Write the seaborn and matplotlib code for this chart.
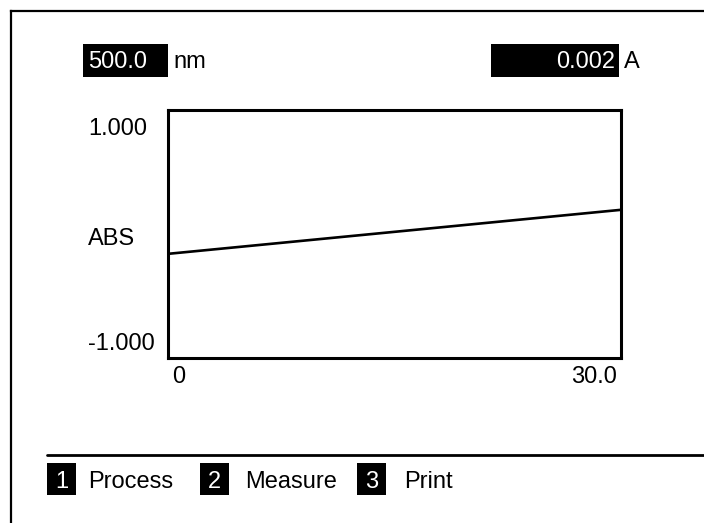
import matplotlib
matplotlib.use("Agg")
import matplotlib.pyplot as plt
from matplotlib.patches import Rectangle
from matplotlib.lines import Line2D
import seaborn as sns
import pandas as pd

# ---- data ----
time_min = [0.0, 30.0]
absorbance = [-0.16, 0.195]
x_limits = [0.0, 30.0]
y_limits = [-1.0, 1.0]
x_tick_labels = ["0", "30.0"]
y_tick_labels = ["1.000", "-1.000"]
y_axis_label = "ABS"
wavelength_text = "500.0"
wavelength_unit = "nm"
reading_text = "0.002"
reading_unit = "A"
menu_keys = ["1", "2", "3"]
menu_items = ["Process", "Measure", "Print"]

W, H = 704, 523
sns.set_theme(style="white")
plt.rcParams["font.family"] = ["Liberation Sans", "DejaVu Sans"]
FS = 17

fig = plt.figure(figsize=(W / 100, H / 100), dpi=100)
fig.patch.set_facecolor("white")

# overlay in pixel coords
ov = fig.add_axes([0, 0, 1, 1], zorder=0)
ov.set_xlim(0, W)
ov.set_ylim(H, 0)
ov.axis("off")
ov.patch.set_alpha(0)

# main plot area
L, R, T, B = 168, 621, 110, 358
ax = fig.add_axes([L / W, 1 - B / H, (R - L) / W, (B - T) / H], zorder=1)
df = pd.DataFrame({"t": time_min, "abs": absorbance})
sns.lineplot(data=df, x="t", y="abs", ax=ax, color="black", linewidth=1.9)
ax.set_xlim(*x_limits)
ax.set_ylim(*y_limits)
ax.set_xticks([])
ax.set_yticks([])
ax.set_xlabel("")
ax.set_ylabel("")
for s in ax.spines.values():
    s.set_visible(True)
    s.set_color("black")
    s.set_linewidth(2.2)

# outer frame
ov.add_line(Line2D([11, 11], [H + 5, 11], color="black", lw=1.6, solid_capstyle="projecting"))
ov.add_line(Line2D([11, W + 5], [11, 11], color="black", lw=1.6, solid_capstyle="projecting"))

# top readouts
ov.add_patch(Rectangle((83, 44), 168 - 83, 33, color="black", lw=0))
ov.text(88, 68.5, wavelength_text, color="white", fontsize=FS, ha="left", va="baseline")
ov.text(173, 68.5, wavelength_unit, color="black", fontsize=FS, ha="left", va="baseline")
ov.add_patch(Rectangle((491, 44), 619 - 491, 33, color="black", lw=0))
ov.text(615, 68.5, reading_text, color="white", fontsize=FS, ha="right", va="baseline")
ov.text(624, 68.5, reading_unit, color="black", fontsize=FS, ha="left", va="baseline")

# axis labels
ov.text(88, 135, y_tick_labels[0], fontsize=FS, ha="left", va="baseline", color="black")
ov.text(88, 245, y_axis_label, fontsize=FS, ha="left", va="baseline", color="black")
ov.text(88, 350, y_tick_labels[1], fontsize=FS, ha="left", va="baseline", color="black")
ov.text(172, 383, x_tick_labels[0], fontsize=FS, ha="left", va="baseline", color="black")
ov.text(617, 383, x_tick_labels[1], fontsize=FS, ha="right", va="baseline", color="black")

# separator
ov.add_line(Line2D([47, W + 5], [455, 455], color="black", lw=2.0))

# menu
box_x = [47, 200, 357]
text_x = [88, 245, 404]
for k, item, bx, tx in zip(menu_keys, menu_items, box_x, text_x):
    ov.add_patch(Rectangle((bx, 463), 29, 32, color="black", lw=0))
    ov.text(bx + 14.5, 488, k, color="white", fontsize=FS, ha="center", va="baseline")
    ov.text(tx, 488, item, color="black", fontsize=FS, ha="left", va="baseline")

fig.savefig("out.png", dpi=100, facecolor="white")
